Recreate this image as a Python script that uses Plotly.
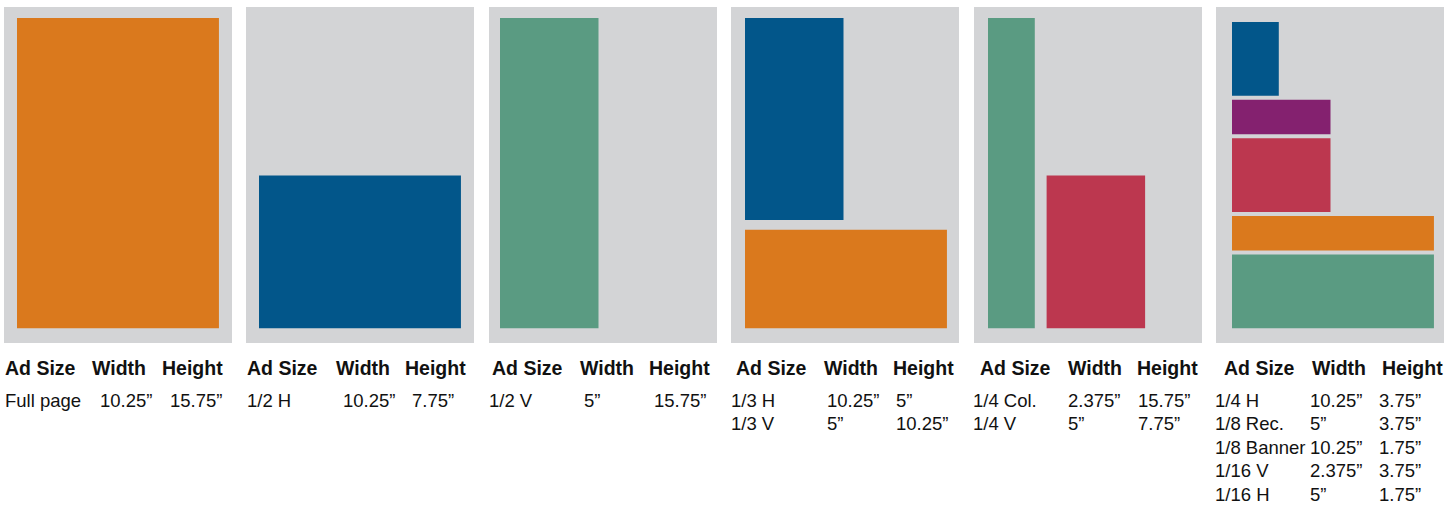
import plotly.graph_objects as go

# ---------------- data ----------------
ad_sizes = ["Full page", "1/2 H", "1/2 V", "1/3 H", "1/3 V", "1/4 Col.", "1/4 V",
            "1/4 H", "1/8 Rec.", "1/8 Banner", "1/16 V", "1/16 H"]
ad_widths = [10.25, 10.25, 5, 10.25, 5, 2.375, 5, 10.25, 5, 10.25, 2.375, 5]
ad_heights = [15.75, 7.75, 15.75, 5, 10.25, 15.75, 7.75, 3.75, 3.75, 1.75, 3.75, 1.75]
ad_panel = [0, 1, 2, 3, 3, 4, 4, 5, 5, 5, 5, 5]
header_labels = ["Ad Size", "Width", "Height"]

# ---------------- styles / layout ----------------
ORANGE, BLUE, GREEN, RED, PURPLE = "#DA791D", "#02568A", "#5A9B82", "#BC374F", "#84216F"
GRAY = "#D3D4D6"
ad_colors = {"Full page": ORANGE, "1/2 H": BLUE, "1/2 V": GREEN, "1/3 H": ORANGE,
             "1/3 V": BLUE, "1/4 Col.": GREEN, "1/4 V": RED, "1/4 H": GREEN,
             "1/8 Rec.": RED, "1/8 Banner": ORANGE, "1/16 V": BLUE, "1/16 H": PURPLE}

anchor = {"Full page": "top", "1/2 H": "bottom", "1/2 V": "top", "1/3 H": "bottom",
          "1/3 V": "top", "1/4 Col.": "top", "1/4 V": "bottom"}
right_of = {"1/4 V": "1/4 Col."}
stack_order = ["1/4 H", "1/8 Banner", "1/8 Rec.", "1/16 H", "1/16 V"]  # bottom -> top
STACK_GAP = 0.2
COL_GAP = 0.6

S = 19.7  # px per inch
W_FIG, H_FIG = 1452, 506
panel_left_px = [4, 246, 489, 731, 974, 1216]
PANEL_W = 228
PANEL_TOP, PANEL_BOT = 7, 343
page_inset_px = [13, 13, 11, 14, 14, 16]
PAGE_TOP_INSET = 11

hdr_x = [[5, 92, 162], [247, 336, 405], [492, 580, 649], [736, 824, 893],
         [980, 1068, 1137], [1224, 1312, 1382]]
val_x = [[5, 100, 170], [247, 343, 412], [489, 584, 654], [731, 827, 896],
         [973, 1068, 1138], [1215, 1310, 1379]]
HDR_Y = 368
ROW_Y0 = 400
ROW_DY = 23.6
TEXT_COLOR = "#111111"
FONT = "Liberation Sans, Arial, Helvetica, sans-serif"

PAGE_H = max(ad_heights)
idx = {n: i for i, n in enumerate(ad_sizes)}

# compute placements (inches, origin at page top-left, y downward)
pos = {}
for n in ad_sizes:
    i = idx[n]
    w, h = ad_widths[i], ad_heights[i]
    if n in anchor:
        x0 = 0.0
        if n in right_of:
            x0 = ad_widths[idx[right_of[n]]] + COL_GAP
        y0 = 0.0 if anchor[n] == "top" else PAGE_H - h
        pos[n] = (x0, y0)
bottom = PAGE_H
for n in stack_order:
    h = ad_heights[idx[n]]
    pos[n] = (0.0, bottom - h)
    bottom = bottom - h - STACK_GAP

fig = go.Figure()
layout_axes = {}
for p in range(6):
    ax = "" if p == 0 else str(p + 1)
    x_lo = -page_inset_px[p] / S
    x_hi = x_lo + PANEL_W / S
    y_lo = -PAGE_TOP_INSET / S
    y_hi = y_lo + (PANEL_BOT - PANEL_TOP) / S
    layout_axes["xaxis" + ax] = dict(
        domain=[panel_left_px[p] / W_FIG, (panel_left_px[p] + PANEL_W) / W_FIG],
        range=[x_lo, x_hi], visible=False, fixedrange=True,
        anchor="y" + ax)
    layout_axes["yaxis" + ax] = dict(
        domain=[1 - PANEL_BOT / H_FIG, 1 - PANEL_TOP / H_FIG],
        range=[y_hi, y_lo], visible=False, fixedrange=True,
        anchor="x" + ax)

for n in ad_sizes:
    i = idx[n]
    p = ad_panel[i]
    ax = "" if p == 0 else str(p + 1)
    x0, y0 = pos[n]
    w, h = ad_widths[i], ad_heights[i]
    fig.add_trace(go.Bar(
        x=[x0 + w / 2], y=[h], base=[y0], width=[w],
        marker=dict(color=ad_colors[n], line=dict(width=0)),
        xaxis="x" + ax, yaxis="y" + ax, hoverinfo="skip", showlegend=False))

annotations = []
def add_text(txt, xpx, ypx, size, bold=False):
    annotations.append(dict(
        text=("<b>%s</b>" % txt) if bold else txt,
        x=(xpx - 2) / W_FIG, y=1 - ypx / H_FIG, xref="paper", yref="paper",
        xanchor="left", yanchor="middle", showarrow=False,
        font=dict(family=FONT, size=size, color=TEXT_COLOR)))

for p in range(6):
    for k, lab in enumerate(header_labels):
        add_text(lab, hdr_x[p][k], HDR_Y, 19.5, bold=True)
    rows = [n for n in ad_sizes if ad_panel[idx[n]] == p]
    for r, n in enumerate(rows):
        i = idx[n]
        y = ROW_Y0 + r * ROW_DY
        add_text(n, val_x[p][0], y, 18.5)
        add_text("%g\u201d" % ad_widths[i], val_x[p][1], y, 18.5)
        add_text("%g\u201d" % ad_heights[i], val_x[p][2], y, 18.5)

fig.update_layout(
    width=W_FIG, height=H_FIG, margin=dict(l=0, r=0, t=0, b=0),
    paper_bgcolor="white", plot_bgcolor=GRAY, showlegend=False,
    barmode="overlay", annotations=annotations, **layout_axes)

fig.write_html("out.html", config={"displayModeBar": False},
               post_script="document.body.style.margin='0';"
                           "document.body.style.overflow='hidden';")
